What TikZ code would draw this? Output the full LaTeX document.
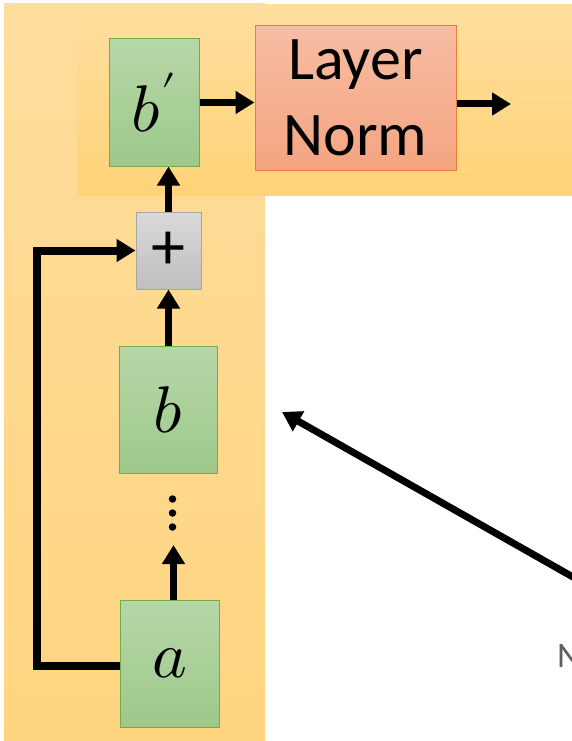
\documentclass[tikz,border=0pt]{standalone}
\usepackage{fontspec}
\usepackage{unicode-math}
\setmainfont{Carlito}
\setmathfont{Latin Modern Math}
\usetikzlibrary{arrows.meta}
\definecolor{panTop}{RGB}{254,221,157}
\definecolor{panBot}{RGB}{255,213,128}
\definecolor{pan2Top}{RGB}{255,222,158}
\definecolor{pan2Bot}{RGB}{255,211,120}
\definecolor{grTop}{RGB}{182,215,168}
\definecolor{grBot}{RGB}{158,201,138}
\definecolor{grLine}{RGB}{112,173,71}
\definecolor{lnTop}{RGB}{247,189,163}
\definecolor{lnBot}{RGB}{244,164,128}
\definecolor{lnLine}{RGB}{237,125,49}
\definecolor{plTop}{RGB}{217,217,217}
\definecolor{plBot}{RGB}{191,191,191}
\definecolor{plLine}{RGB}{166,166,166}
\tikzset{
  vecbox/.style={rectangle, inner sep=0pt, line width=1pt, draw=grLine,
    top color=grTop, bottom color=grBot,
    minimum width=#1, minimum height=127pt,
    font=\fontsize{66}{66}\selectfont},
  normbox/.style={rectangle, inner sep=0pt, line width=1pt, draw=lnLine,
    top color=lnTop, bottom color=lnBot, align=center,
    minimum width=201pt, minimum height=144pt,
    font=\fontsize{62}{76}\selectfont},
  addbox/.style={rectangle, inner sep=0pt, line width=1pt, draw=plLine,
    top color=plTop, bottom color=plBot,
    minimum width=65pt, minimum height=77pt,
    font=\fontsize{68}{68}\selectfont},
  arr/.style={line width=7pt, -{Triangle[length=19pt,width=22pt]}},
  dot/.style={fill=black, circle, inner sep=0pt, minimum size=7.5pt},
}
\begin{document}
\begin{tikzpicture}[x=1pt,y=-1pt]
\useasboundingbox (0,0) rectangle (572,741);
\fill[white] (0,0) rectangle (572,741);
% panels
\path[top color=panTop, bottom color=panBot] (4,4) rectangle (265,740);
\path[top color=pan2Top, bottom color=pan2Bot] (77,5) rectangle (572,195);
% nodes
\node[vecbox=90pt] (bp) at (154,102.5) {$b'$};
\node[normbox] (ln) at (355.5,98) {Layer\\Norm};
\node[addbox] (plus) at (168.5,250.5) {+};
\node[vecbox=98pt] (b) at (168,409.5) {$b$};
\node[vecbox=99pt] (a) at (169.5,663.5) {$a$};
\node[dot] (d1) at (172.5,499) {};
\node[dot] (d2) at (172.5,513) {};
\node[dot] (d3) at (172.5,527) {};
\node[text={rgb,255:red,96;green,96;blue,96}, font=\fontsize{36}{36}\selectfont, anchor=base west, inner sep=0pt] (n) at (557,667) {N};
% coordinates
\coordinate (out) at (511,104);
\coordinate (dtip) at (173.5,545);
\coordinate (skipbot) at (37,666);
\coordinate (dstart) at (580,581);
\coordinate (dend) at (282,412);
% connectors
\draw[arr] (bp.east) -- (bp.east -| ln.west);
\draw[arr] (ln.east |- out) -- (out);
\draw[arr] (plus.north) -- (plus.north |- bp.south);
\draw[arr] (b.north -| plus.south) -- (plus.south);
\draw[arr] (a.north -| dtip) -- (dtip);
\draw[arr, line width=8pt] (a.west |- skipbot) -- (skipbot) |- (plus.west);
\draw[arr] (dstart) -- (dend);
\end{tikzpicture}
\end{document}
